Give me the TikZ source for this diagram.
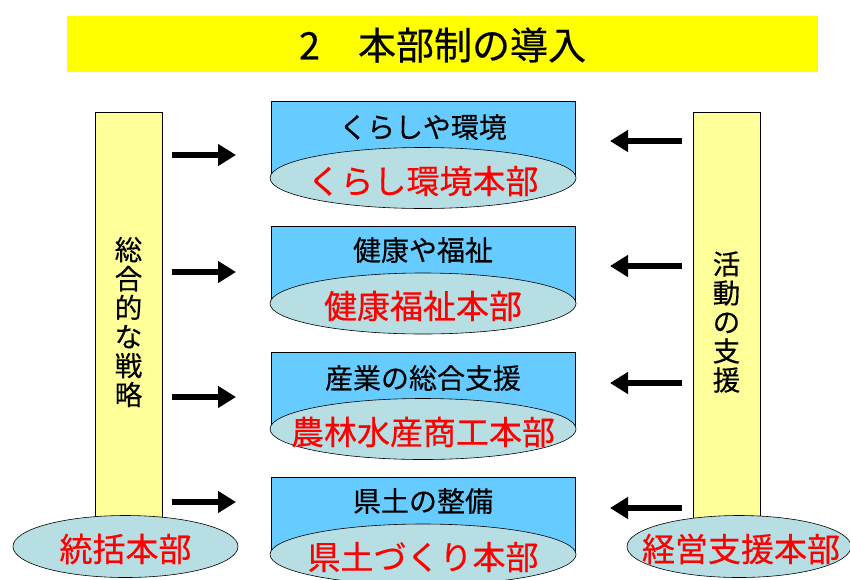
\documentclass[tikz,border=0pt]{standalone}
\usepackage{fontspec}
\setmainfont{Noto Sans CJK JP}
\newfontfamily\jpbold[FakeBold=0.4]{Noto Sans CJK JP}
\usetikzlibrary{shapes.geometric,arrows.meta}
\definecolor{titleyellow}{HTML}{FFFF00}
\definecolor{pillaryellow}{HTML}{FFFF99}
\definecolor{boxblue}{HTML}{66CCFF}
\definecolor{ellfill}{HTML}{B7DEE3}
\definecolor{labred}{HTML}{FF0000}
\tikzset{
  titlebox/.style={fill=titleyellow, draw=none, minimum width=751pt, minimum height=56pt, inner sep=0pt},
  pillar/.style={fill=pillaryellow, draw=black, line width=0.6pt, minimum width=67pt, minimum height=420pt, inner sep=0pt},
  bluebox/.style={fill=boxblue, draw=black, line width=0.6pt, minimum width=304pt, minimum height=77pt, inner sep=0pt},
  ell/.style={ellipse, fill=ellfill, draw=black, line width=0.6pt, inner sep=0pt},
  boxell/.style={ell, minimum width=306pt, minimum height=61pt},
  blacklab/.style={font=\jpbold\fontsize{28}{30}\selectfont, inner sep=0pt},
  redlab/.style={text=labred, font=\jpbold\fontsize{33}{35}\selectfont, inner sep=0pt},
  vlab/.style={align=center, font=\jpbold\fontsize{27.5}{29}\selectfont, inner sep=0pt},
  blockarrow/.style={line width=6pt, -{Triangle[length=18pt,width=21pt]}},
}
\begin{document}
\begin{tikzpicture}[x=1pt,y=-1pt]
\useasboundingbox (0,0) rectangle (850,579);
\clip (0,0) rectangle (850,579);
% title
\node[titlebox] (title) at (442.5,44) {};
\node[font=\jpbold\fontsize{38}{40}\selectfont, inner sep=0pt] (titletext) at (442.5,45) {2　本部制の導入};
% pillars
\node[pillar] (lp) at (128.5,322) {};
\node[pillar] (rp) at (726.5,322) {};
\node[vlab] (lpt) at (128.5,322) {総\\合\\的\\な\\戦\\略};
\node[vlab] (rpt) at (726.5,322) {活\\動\\の\\支\\援};
\node[ell, minimum width=225pt, minimum height=62pt] (le) at (125.5,546.5) {};
\node[redlab] (let) at (125.5,549) {統括本部};
\node[ell, minimum width=224pt, minimum height=62pt] (re) at (739,546.5) {};
\node[redlab] (ret) at (741,549) {経営支援本部};
% boxes
\node[bluebox] (b1) at (423,139.5) {};
\node[boxell] (e1) at (423,178) {};
\node[blacklab] (t1) at (423,127) {くらしや環境};
\node[redlab] (r1) at (423,181) {くらし環境本部};
\node[bluebox] (b2) at (423,265) {};
\node[boxell] (e2) at (423,303.5) {};
\node[blacklab] (t2) at (423,250) {健康や福祉};
\node[redlab] (r2) at (423,306) {健康福祉本部};
\node[bluebox] (b3) at (423,390.5) {};
\node[boxell] (e3) at (423,429) {};
\node[blacklab] (t3) at (423,378) {産業の総合支援};
\node[redlab] (r3) at (423,432) {農林水産商工本部};
\node[bluebox] (b4) at (423,516) {};
\node[boxell] (e4) at (423,554.5) {};
\node[blacklab] (t4) at (423,501) {県土の整備};
\node[redlab] (r4) at (423,557) {県土づくり本部};
% arrow end points
\coordinate (la1s) at (172,155); \coordinate (la1e) at (236,155);
\coordinate (la2s) at (172,272); \coordinate (la2e) at (236,272);
\coordinate (la3s) at (172,397); \coordinate (la3e) at (236,397);
\coordinate (la4s) at (172,502); \coordinate (la4e) at (236,502);
\coordinate (ra1s) at (682,141); \coordinate (ra1e) at (610,141);
\coordinate (ra2s) at (682,266); \coordinate (ra2e) at (610,266);
\coordinate (ra3s) at (682,383); \coordinate (ra3e) at (610,383);
\coordinate (ra4s) at (682,508); \coordinate (ra4e) at (610,508);
\foreach \i in {1,2,3,4}{
  \draw[blockarrow] (la\i s) -- (la\i e);
  \draw[blockarrow] (ra\i s) -- (ra\i e);
}
\end{tikzpicture}
\end{document}
